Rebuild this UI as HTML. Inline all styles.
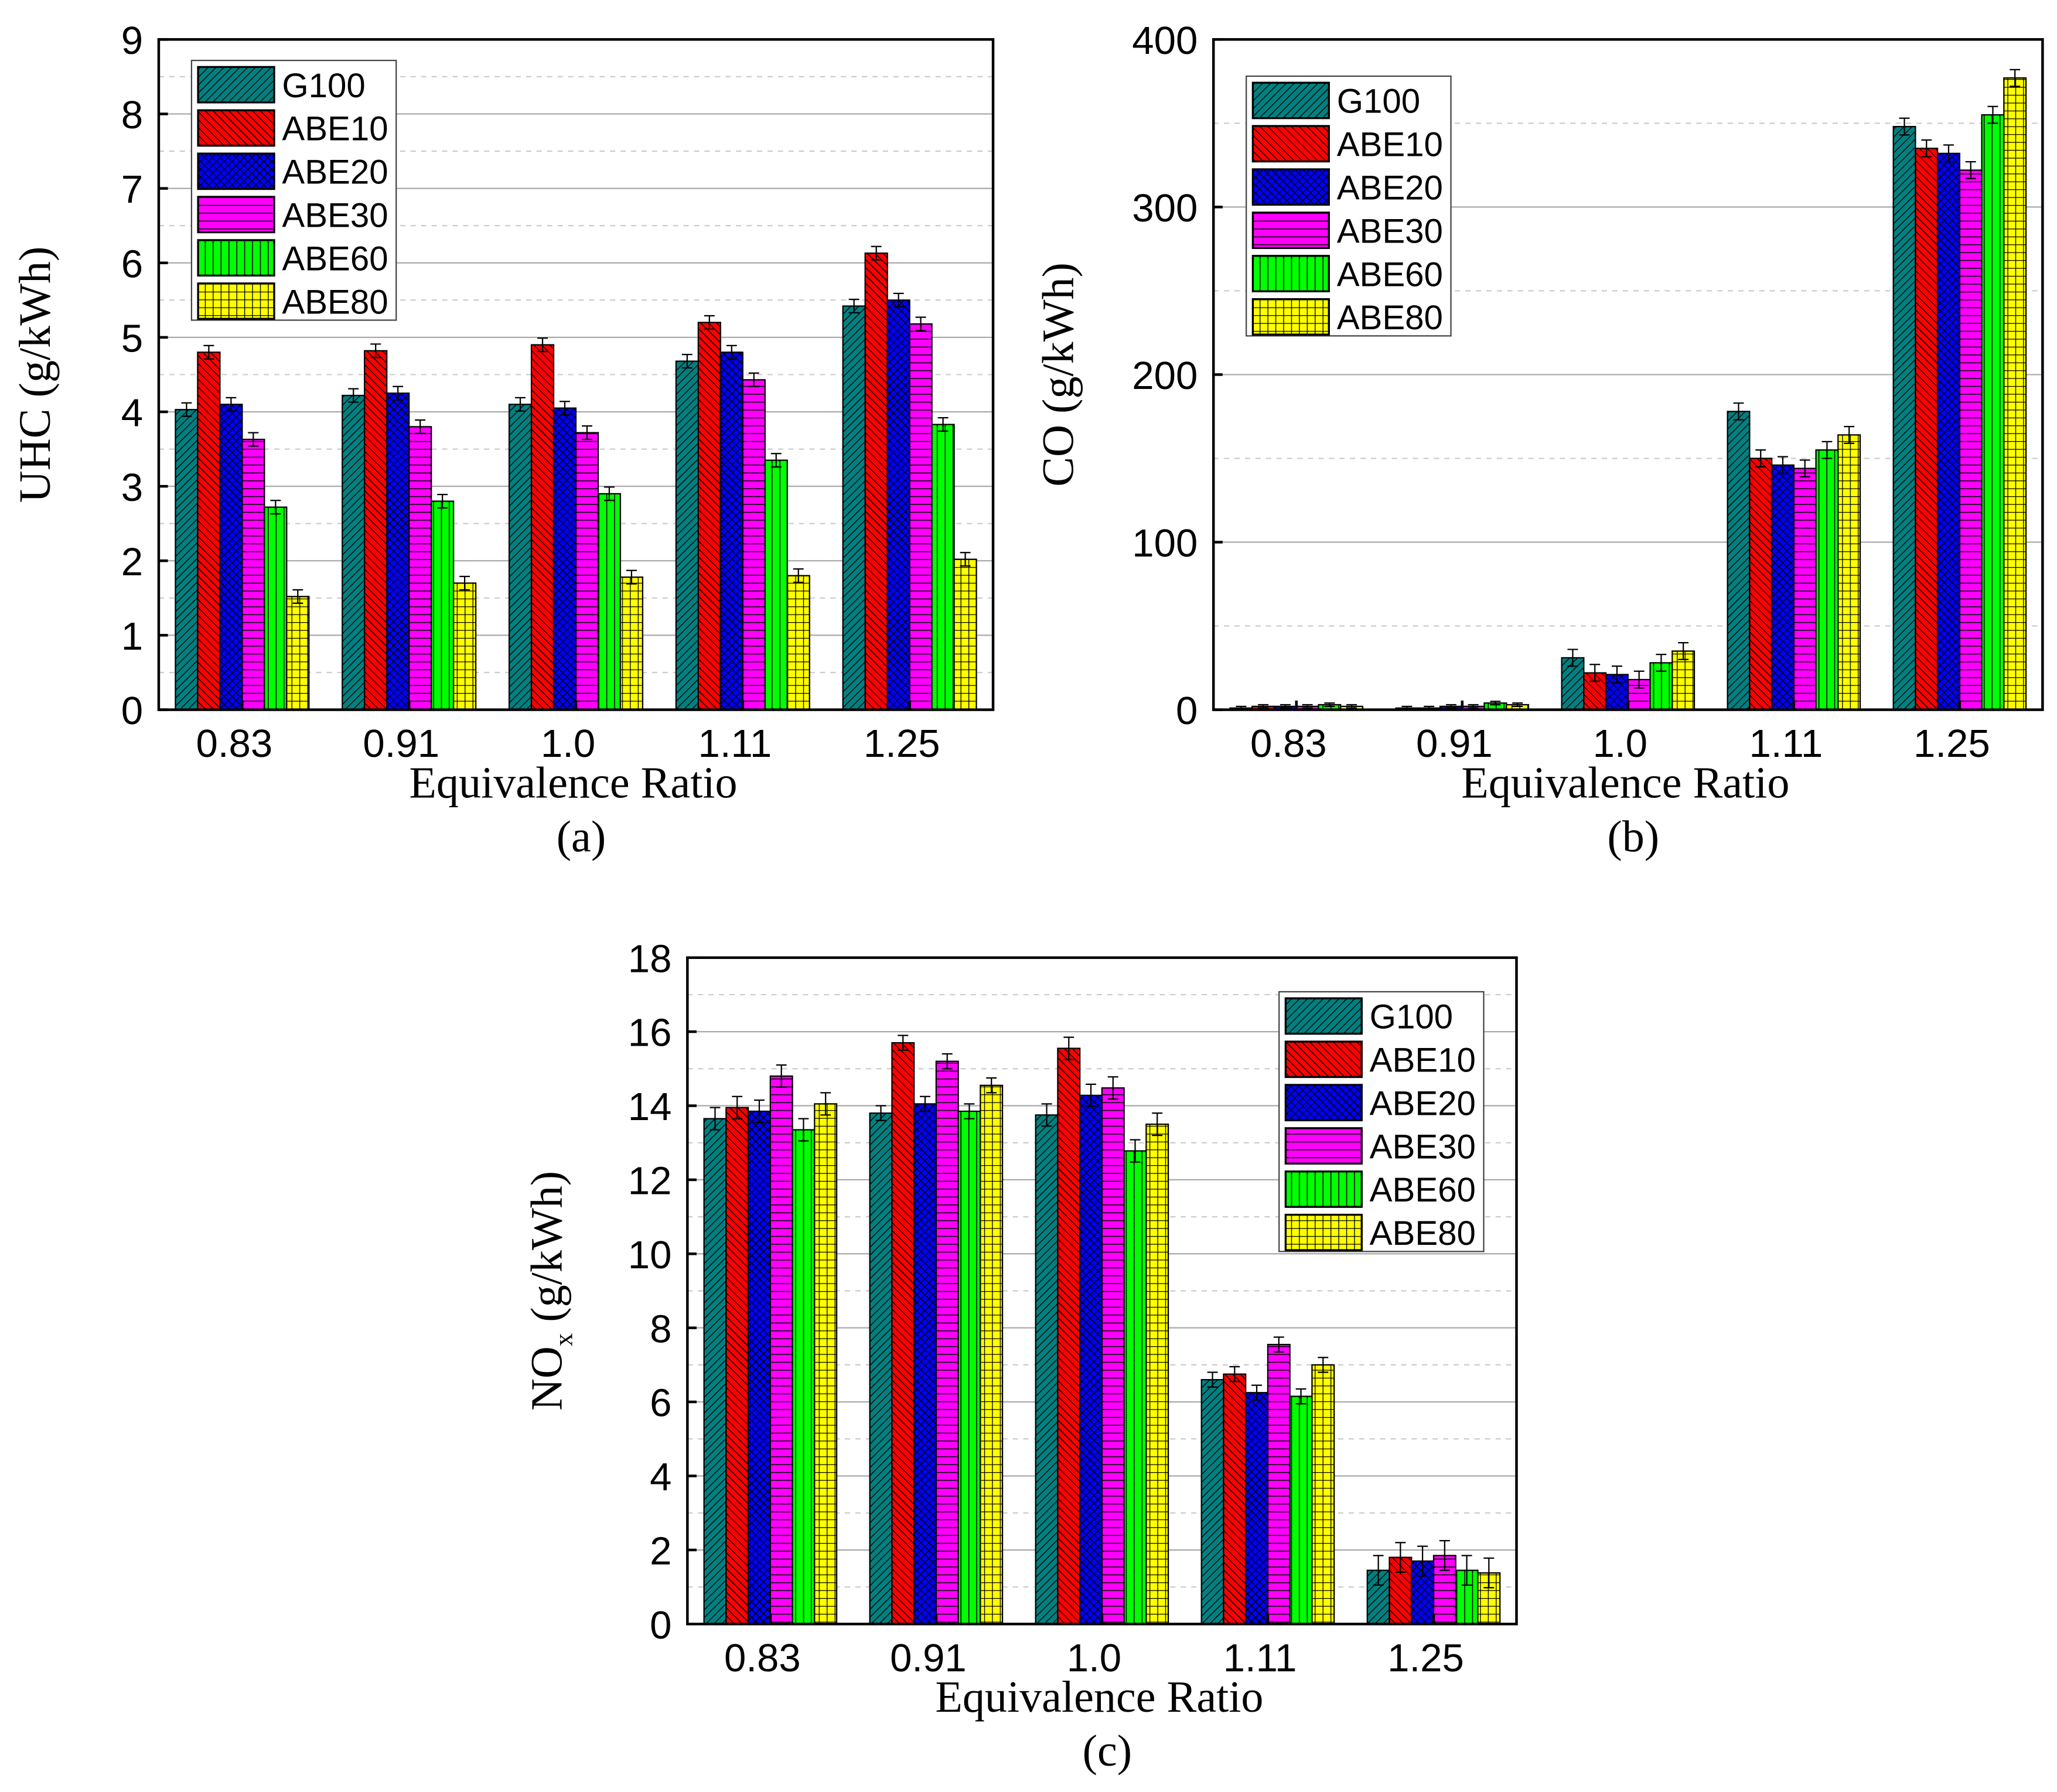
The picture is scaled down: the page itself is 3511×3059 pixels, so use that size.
<!DOCTYPE html>
<html><head><meta charset="utf-8"><style>
html,body{margin:0;padding:0;background:#fff}
svg{display:block}
.tk{font-family:"Liberation Sans",sans-serif;font-size:30px}
.ti{font-family:"Liberation Serif",serif;font-size:34px}
.lg{font-family:"Liberation Sans",sans-serif;font-size:26px}
</style></head><body>
<svg id="s" width="3511" height="3059" viewBox="0 0 1568 1366" xmlns="http://www.w3.org/2000/svg">
<defs>
<pattern id="p0" width="6" height="6" patternUnits="userSpaceOnUse"><rect width="6" height="6" fill="#008080"/><path d="M0 6L6 0M-1 1L1 -1M5 7L7 5" stroke="#000" stroke-width="0.6"/></pattern>
<pattern id="p1" width="6" height="6" patternUnits="userSpaceOnUse"><rect width="6" height="6" fill="#ff0000"/><path d="M0 0L6 6M-1 5L1 7M5 -1L7 1" stroke="#000" stroke-width="0.6"/></pattern>
<pattern id="p2" width="6" height="6" patternUnits="userSpaceOnUse"><rect width="6" height="6" fill="#0000ff"/><path d="M0 0L6 6M0 6L6 0" stroke="#000" stroke-width="0.6"/></pattern>
<pattern id="p3" width="6" height="6" patternUnits="userSpaceOnUse"><rect width="6" height="6" fill="#ff00ff"/><path d="M0 0.5H6" stroke="#000" stroke-width="0.7"/></pattern>
<pattern id="p4" width="6" height="6" patternUnits="userSpaceOnUse"><rect width="6" height="6" fill="#00ff00"/><path d="M0.5 0V6" stroke="#000" stroke-width="0.7"/></pattern>
<pattern id="p5" width="6" height="6" patternUnits="userSpaceOnUse"><rect width="6" height="6" fill="#ffff00"/><path d="M0.5 0V6M0 0.5H6" stroke="#000" stroke-width="0.6"/></pattern>
</defs>
</svg>
<script>
const categories=["0.83","0.91","1.0","1.11","1.25"];
const seriesNames=["G100","ABE10","ABE20","ABE30","ABE60","ABE80"];
const uhcValues=[[4.03,4.22,4.1,4.68,5.42],[4.8,4.82,4.9,5.2,6.13],[4.1,4.25,4.05,4.8,5.5],[3.63,3.8,3.72,4.43,5.18],[2.72,2.8,2.9,3.35,3.83],[1.52,1.7,1.78,1.8,2.02]];
const uhcErr=[0.09,0.09,0.09,0.09,0.09];
const coValues=[[1,1,31,178,348],[2,1,22,150,335],[2,2,21,146,332],[2,2,18,144,322],[3,4,28,155,355],[2,3,35,164,377]];
const coErr=[1,1,5,5,5];
const noxValues=[[13.65,13.8,13.75,6.6,1.45],[13.95,15.7,15.55,6.75,1.8],[13.85,14.05,14.28,6.25,1.7],[14.8,15.2,14.48,7.55,1.85],[13.35,13.85,12.78,6.15,1.45],[14.05,14.55,13.5,7.0,1.38]];
const noxErr=[0.3,0.2,0.3,0.2,0.4];
const uhcTicks=[0,1,2,3,4,5,6,7,8,9];
const coTicks=[0,100,200,300,400];
const noxTicks=[0,2,4,6,8,10,12,14,16,18];
const NS="http://www.w3.org/2000/svg";
const svg=document.getElementById('s');
function mk(t,a,p){const e=document.createElementNS(NS,t);for(const k in a)e.setAttribute(k,a[k]);(p||svg).appendChild(e);return e;}
function panel(cfg){
 const g=mk('g',{});
 
 
 const {x0,x1,y0,y1,max,ticks,vals,err,minor}=cfg;
 const ys=v=>y1-(v/max)*(y1-y0);
 const gw=(x1-x0)/categories.length;
 const bw=gw*0.8/6;
 for(let v=minor;v<max;v+=minor){
  const isMaj=ticks.some(t=>Math.abs(t-v)<1e-6);
  const l=mk('line',{x1:x0,x2:x1,y1:ys(v),y2:ys(v),stroke:isMaj?'#aaa':'#ccc','stroke-width':1,'stroke-dasharray':isMaj?'':'4 4'},g);
  
  
 }
 for(let s=0;s<6;s++)for(let c=0;c<5;c++){
  const v=vals[s][c];
  const bx=x0+gw*c+gw*0.1+bw*s;
  const r=mk('rect',{x:bx,y:ys(v),width:bw,height:y1-ys(v),fill:`url(#p${s})`,stroke:'#000','stroke-width':1},g);
  
  
  const e=err[c], cx=bx+bw/2;
  const eb=mk('path',{d:`M${cx} ${ys(v+e)}V${ys(Math.max(0,v-e))}M${cx-4} ${ys(v+e)}H${cx+4}M${cx-4} ${ys(Math.max(0,v-e))}H${cx+4}`,stroke:'#000','stroke-width':1,fill:'none'},g);
  
  
 }
 const fr=mk('rect',{x:x0,y:y0,width:x1-x0,height:y1-y0,fill:'none',stroke:'#000','stroke-width':2},g);
 
 
 ticks.forEach(t=>{
  mk('line',{x1:x0,x2:x0+7,y1:ys(t),y2:ys(t),stroke:'#000','stroke-width':2},g);
  const tx=mk('text',{x:x0-12,y:ys(t)+11,'text-anchor':'end',class:'tk'},g);tx.textContent=t;
  
  
 });
 categories.forEach((c,i)=>{
  const cx=x0+gw*i+gw*0.1+bw*3;
  mk('line',{x1:cx,x2:cx,y1:y1,y2:y1-7,stroke:'#000','stroke-width':2},g);
  const tx=mk('text',{x:cx-6,y:y1+36,'text-anchor':'middle',class:'tk'},g);tx.textContent=c;
  
  
 });
 const xt=mk('text',{x:(x0+x1)/2-2,y:y1+67,'text-anchor':'middle',class:'ti'},g);xt.textContent='Equivalence Ratio';
 
 
 const pl=mk('text',{x:(x0+x1)/2+4,y:y1+108,'text-anchor':'middle',class:'ti'},g);pl.textContent=cfg.label;
 
 
 const yt=mk('text',{x:0,y:0,'text-anchor':'middle',class:'ti',transform:`translate(${cfg.ytx},${(y0+y1)/2}) rotate(-90)`},g);
 yt.innerHTML=cfg.ytitle;
 
 
 const [lx,ly]=cfg.leg;
 const lb=mk('rect',{x:lx,y:ly,width:156,height:198,fill:'#fff',stroke:'#444','stroke-width':1},g);
 
 
 seriesNames.forEach((n,i)=>{
  mk('rect',{x:lx+5,y:ly+5+i*33,width:58,height:27,fill:`url(#p${i})`,stroke:'#000','stroke-width':1.5},g);
  const t=mk('text',{x:lx+69,y:ly+28+i*33,class:'lg'},g);t.textContent=n;
  
  
 });
}
panel({name:'uhc-chart',x0:121,x1:757,y0:30,y1:541,max:9,ticks:uhcTicks,minor:0.5,vals:uhcValues,err:uhcErr,label:'(a)',ytitle:'UHC (g/kWh)',ytx:38,leg:[146,46]});
panel({name:'co-chart',x0:925,x1:1557,y0:30,y1:541,max:400,ticks:coTicks,minor:50,vals:coValues,err:coErr,label:'(b)',ytitle:'CO (g/kWh)',ytx:818,leg:[950,58]});
panel({name:'nox-chart',x0:524,x1:1156,y0:730,y1:1238,max:18,ticks:noxTicks,minor:1,vals:noxValues,err:noxErr,label:'(c)',ytitle:'NO<tspan dy="8" font-size="20">x</tspan><tspan dy="-8"> (g/kWh)</tspan>',ytx:428,leg:[975,756]});
</script>
</body></html>
